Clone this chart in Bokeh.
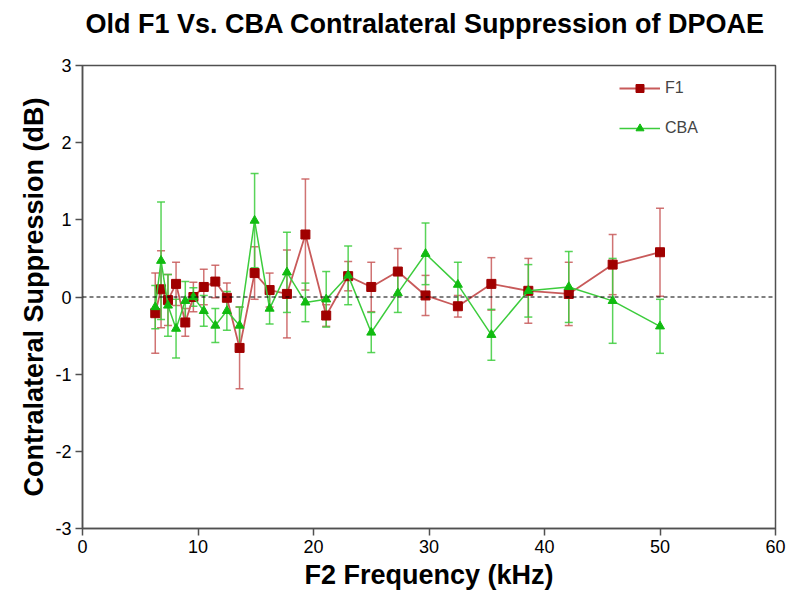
from bokeh.plotting import figure
from bokeh.models import (ColumnDataSource, Whisker, TeeHead, Span, Legend, LegendItem,
                          FixedTicker, PrintfTickFormatter, LinearAxis)
from bokeh.embed import file_html
from bokeh.resources import INLINE

freq = [6.3, 6.8, 7.4, 8.1, 8.9, 9.6, 10.5, 11.5, 12.5, 13.6, 14.9, 16.2, 17.7,
        19.3, 21.1, 23.0, 25.0, 27.3, 29.7, 32.5, 35.4, 38.6, 42.1, 45.9, 50.0]
f1_val = [-0.21, 0.10, -0.04, 0.17, -0.33, 0.00, 0.13, 0.20, -0.01, -0.66, 0.31, 0.09, 0.04,
          0.81, -0.24, 0.27, 0.13, 0.33, 0.02, -0.12, 0.17, 0.08, 0.04, 0.42, 0.58]
f1_err = [0.52, 0.50, 0.33, 0.28, 0.18, 0.19, 0.23, 0.21, 0.19, 0.53, 0.34, 0.22, 0.57,
          0.72, 0.14, 0.19, 0.32, 0.30, 0.26, 0.14, 0.34, 0.42, 0.41, 0.39, 0.57]
cba_val = [-0.13, 0.47, -0.11, -0.41, -0.05, 0.00, -0.18, -0.37, -0.18, -0.37, 0.99, -0.15, 0.32,
           -0.07, -0.03, 0.28, -0.46, 0.05, 0.56, 0.16, -0.49, 0.08, 0.13, -0.05, -0.38]
cba_err = [0.28, 0.76, 0.40, 0.38, 0.25, 0.12, 0.20, 0.22, 0.25, 0.24, 0.61, 0.20, 0.52,
           0.25, 0.36, 0.38, 0.26, 0.25, 0.40, 0.29, 0.33, 0.34, 0.46, 0.55, 0.35]

x_ticks = [0, 10, 20, 30, 40, 50, 60]
y_ticks = [-3, -2, -1, 0, 1, 2, 3]
title_text = "Old F1 Vs. CBA  Contralateral Suppression of DPOAE"

F1_LINE = "#c85a5a"
F1_MARK = "#a00000"
CBA_LINE = "#3ccc3c"
CBA_MARK = "#10bb10"

src_f1 = ColumnDataSource(dict(x=freq, y=f1_val,
                               lo=[v - e for v, e in zip(f1_val, f1_err)],
                               hi=[v + e for v, e in zip(f1_val, f1_err)]))
src_cba = ColumnDataSource(dict(x=freq, y=cba_val,
                                lo=[v - e for v, e in zip(cba_val, cba_err)],
                                hi=[v + e for v, e in zip(cba_val, cba_err)]))

p = figure(frame_width=693, frame_height=463, x_range=(0, 60), y_range=(-3, 3),
           output_backend="svg", toolbar_location=None, title=None,
           min_border_left=82, min_border_right=15, min_border_top=65, min_border_bottom=75)
p.background_fill_color = "white"
p.border_fill_color = "white"
p.grid.visible = False
p.outline_line_color = "#505050"
p.outline_line_width = 1.5

xax = p.below[0]
yax = p.left[0]
for ax in (xax, yax):
    ax.axis_line_color = "#505050"
    ax.axis_line_width = 1.5
    ax.major_tick_line_color = "#505050"
    ax.major_tick_line_width = 1.5
    ax.major_tick_out = 7
    ax.major_tick_in = 0
    ax.minor_tick_line_color = None
    ax.major_label_text_font = "Liberation Sans"
    ax.major_label_text_font_size = "18px"
    ax.major_label_text_color = "black"
    ax.axis_label_text_font_style = "bold"
    ax.axis_label_text_color = "black"
    ax.formatter = PrintfTickFormatter(format="%d")

xax.ticker = FixedTicker(ticks=x_ticks)
yax.ticker = FixedTicker(ticks=y_ticks)
xax.major_label_standoff = 4
yax.major_label_standoff = 4
xax.axis_label = "F2 Frequency (kHz)"
xax.axis_label_text_font = "Liberation Sans"
xax.axis_label_text_font_size = "27px"
xax.axis_label_standoff = 4
yax.axis_label = "Contralateral Suppression (dB)"
yax.axis_label_text_font = "Liberation Sans"
yax.axis_label_text_font_size = "27px"
yax.axis_label_standoff = 3

# title drawn as the label of an empty axis above the frame
top = LinearAxis(ticker=FixedTicker(ticks=[]), axis_line_color=None,
                 major_tick_line_color=None, minor_tick_line_color=None,
                 major_label_text_font_size="0px",
                 axis_label=title_text, axis_label_standoff=27,
                 axis_label_text_font="Liberation Sans", axis_label_text_font_style="bold",
                 axis_label_text_font_size="27px", axis_label_text_color="black")
p.add_layout(top, "above")

p.add_layout(Span(location=0, dimension="width", line_color="black",
                  line_dash="4 3", line_width=1))

for src, col in ((src_f1, F1_LINE), (src_cba, CBA_LINE)):
    w = Whisker(source=src, base="x", upper="hi", lower="lo", dimension="height",
                line_color=col, line_width=1.5, line_alpha=0.85,
                upper_head=TeeHead(size=8, line_color=col, line_width=1.5, line_alpha=0.85),
                lower_head=TeeHead(size=8, line_color=col, line_width=1.5, line_alpha=0.85))
    p.add_layout(w)

l1 = p.line("x", "y", source=src_f1, line_color=F1_LINE, line_width=1.8)
m1 = p.scatter("x", "y", source=src_f1, marker="square", size=9,
               fill_color=F1_MARK, line_color=F1_MARK)
l2 = p.line("x", "y", source=src_cba, line_color=CBA_LINE, line_width=1.5)
m2 = p.scatter("x", "y", source=src_cba, marker="triangle", size=9,
               fill_color=CBA_MARK, line_color=CBA_MARK)

legend = Legend(items=[LegendItem(label="F1", renderers=[l1, m1]),
                       LegendItem(label="CBA", renderers=[l2, m2])],
                location=(537, 390), padding=0, margin=0, spacing=20,
                glyph_width=41, glyph_height=20, label_height=20,
                label_standoff=5, border_line_color=None, background_fill_alpha=0,
                label_text_font="Liberation Sans", label_text_font_size="16px")
p.add_layout(legend)

open("out.html", "w").write(file_html(p, INLINE))
